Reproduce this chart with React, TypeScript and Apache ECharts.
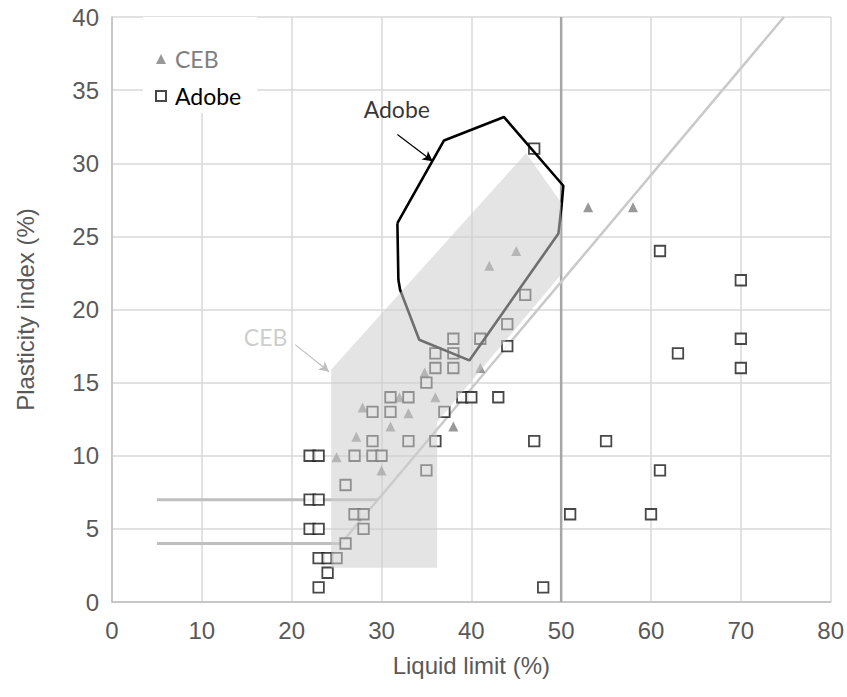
import React, { useEffect, useRef } from 'react';
import * as echarts from 'echarts';

// Liquid limit (%), Plasticity index (%)
const CEB_POINTS: [number, number][] = [
  [25, 9.9], [27.2, 11.3], [27.9, 13.3], [30, 9], [31, 12], [32, 14], [33, 12.9],
  [34.8, 15.7], [36, 14], [38, 12], [41, 16], [42, 23], [45, 24], [53, 27], [58, 27],
];

const ADOBE_POINTS: [number, number][] = [
  [22, 10], [23, 10], [22, 7], [23, 7], [22, 5], [23, 5], [23, 3], [24, 3], [25, 3],
  [24, 2], [23, 1], [26, 4], [27, 6], [28, 6], [28, 5], [26, 8], [27, 10], [29, 10],
  [30, 10], [29, 11], [29, 13], [31, 13], [31, 14], [33, 14], [33, 11], [36, 11],
  [35, 9], [37, 13], [39, 14], [40, 14], [43, 14], [35, 15], [36, 16], [36, 17],
  [38, 16], [38, 17], [38, 18], [41, 18], [44, 19], [44, 17.5], [46, 21], [47, 31],
  [47, 11], [48, 1], [51, 6], [55, 11], [60, 6], [61, 9], [61, 24], [63, 17],
  [70, 22], [70, 18], [70, 16],
];

const A_LINE: [number, number][] = [[25.5, 4], [74.8, 40]];
const LL50_LINE: [number, number][] = [[50, 0], [50, 40]];
const PI7_LINE: [number, number][] = [[5, 7], [29.6, 7]];
const PI4_LINE: [number, number][] = [[5, 4], [25.5, 4]];

const CEB_ZONE: [number, number][] = [
  [24.4, 2.35], [36.2, 2.35], [36.2, 12.3], [50, 22.4], [50, 27.3], [46.1, 30.7], [24.4, 15.9],
];

const ADOBE_ZONE: [number, number][] = [
  [31.77, 25.9], [36.96, 31.56], [43.64, 33.16], [50.24, 28.46], [50.06, 27.17],
  [49.7, 25.2], [39.78, 16.52], [34.2, 17.93], [32.07, 21.35], [31.88, 22.04], [31.77, 25.9],
];

const NOTE_NAMES = ['Adobe', 'CEB'];
const NOTE_POS: [number, number][] = [[31.7, 33.7], [17.1, 18.1]];
const NOTE_COLORS = ['#000000', '#bfbfbf'];
const ARROW_FROM: [number, number][] = [[31.77, 31.96], [20.39, 17.6]];
const ARROW_TO: [number, number][] = [[35.7, 30.13], [24.17, 15.75]];

const AXIS_FONT = "'Liberation Sans', Arial, sans-serif";
const NOTE_FONT = "Lato, 'Noto Sans', sans-serif";

export default function App() {
  const ref = useRef<HTMLDivElement>(null);

  useEffect(() => {
    document.body.style.margin = '0';
    if (!ref.current) return;
    const chart = echarts.init(ref.current, undefined, { renderer: 'svg' });

    const refLine = (name: string, data: [number, number][], color: string, width: number) => ({
      name,
      type: 'line',
      data,
      symbol: 'none',
      silent: true,
      z: 2,
      lineStyle: { color, width },
    });

    const option: any = {
      animation: false,
      backgroundColor: '#ffffff',
      grid: { left: 112, right: 16, top: 17, bottom: 95 },
      legend: {
        orient: 'vertical',
        left: 143,
        top: 17,
        padding: [29, 16, 4, 12],
        itemGap: 11,
        itemWidth: 10,
        itemHeight: 10,
        backgroundColor: '#ffffff',
        textStyle: { fontFamily: NOTE_FONT, fontSize: 23, lineHeight: 26, padding: [0, 0, 0, 4] },
        data: [
          { name: 'CEB', textStyle: { color: '#7f7f7f' } },
          { name: 'Adobe', textStyle: { color: '#000000' } },
        ],
      },
      xAxis: {
        type: 'value',
        min: 0,
        max: 80,
        interval: 10,
        axisLine: { show: true, lineStyle: { color: '#bfbfbf', width: 1.5 } },
        axisTick: { show: false },
        splitLine: { show: true, lineStyle: { color: '#d9d9d9', width: 1.5 } },
        axisLabel: { color: '#595959', fontSize: 24, fontFamily: AXIS_FONT, margin: 16 },
        name: 'Liquid limit (%)',
        nameLocation: 'middle',
        nameGap: 51,
        nameTextStyle: { color: '#595959', fontSize: 24, fontFamily: AXIS_FONT },
      },
      yAxis: {
        type: 'value',
        min: 0,
        max: 40,
        interval: 5,
        axisLine: { show: true, lineStyle: { color: '#bfbfbf', width: 1.5 } },
        axisTick: { show: false },
        splitLine: { show: true, lineStyle: { color: '#d9d9d9', width: 1.5 } },
        axisLabel: { color: '#595959', fontSize: 24, fontFamily: AXIS_FONT, margin: 13 },
        name: 'Plasticity index (%)',
        nameLocation: 'middle',
        nameGap: 75,
        nameTextStyle: { color: '#595959', fontSize: 24, fontFamily: AXIS_FONT },
      },
      series: [
        refLine('LL 50', LL50_LINE, '#a6a6a6', 2.5),
        refLine('A-line', A_LINE, '#c9c9c9', 2.5),
        refLine('PI 7', PI7_LINE, '#bfbfbf', 3),
        refLine('PI 4', PI4_LINE, '#bfbfbf', 3),
        {
          name: 'CEB',
          type: 'scatter',
          data: CEB_POINTS,
          symbol: 'triangle',
          symbolSize: 10,
          z: 3,
          itemStyle: { color: '#7f7f7f' },
        },
        {
          name: 'Adobe',
          type: 'scatter',
          data: ADOBE_POINTS,
          symbol: 'rect',
          symbolSize: 10.5,
          z: 3,
          itemStyle: { color: '#ffffff', borderColor: '#1a1a1a', borderWidth: 1.8 },
        },
        {
          name: 'Adobe zone',
          type: 'line',
          data: ADOBE_ZONE,
          symbol: 'none',
          silent: true,
          z: 4,
          lineStyle: { color: '#000000', width: 2.6 },
        },
        {
          name: 'CEB zone',
          type: 'custom',
          silent: true,
          z: 10,
          data: [CEB_ZONE[0]],
          renderItem: (_params: any, api: any) => ({
            type: 'polygon',
            shape: { points: CEB_ZONE.map((p) => api.coord(p)) },
            style: { fill: 'rgba(205,205,205,0.54)', stroke: 'none' },
          }),
        },
        {
          name: 'notes',
          type: 'scatter',
          silent: true,
          z: 12,
          symbolSize: 1,
          itemStyle: { color: 'transparent' },
          data: NOTE_NAMES.map((n, i) => ({
            name: n,
            value: NOTE_POS[i],
            label: {
              show: true,
              position: 'inside',
              formatter: n,
              color: NOTE_COLORS[i],
              fontFamily: NOTE_FONT,
              fontSize: 23,
            },
          })),
          markLine: {
            silent: true,
            symbol: ['none', 'arrow'],
            symbolSize: [8, 10],
            label: { show: false },
            data: ARROW_FROM.map((f, i) => [
              { coord: f, lineStyle: { color: NOTE_COLORS[i], width: 1.2, type: 'solid' } },
              { coord: ARROW_TO[i] },
            ]),
          },
        },
      ],
    };

    chart.setOption(option);
    return () => chart.dispose();
  }, []);

  return <div ref={ref} style={{ width: 847, height: 697 }} />;
}
